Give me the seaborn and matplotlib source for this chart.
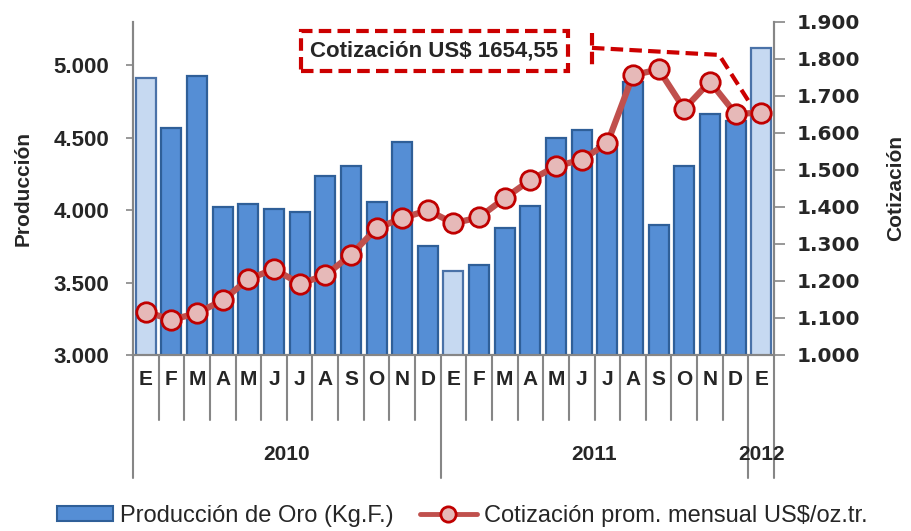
import numpy as np
import pandas as pd
import matplotlib.pyplot as plt
import matplotlib.transforms as mtransforms
from matplotlib.patches import Patch
from matplotlib.lines import Line2D
import seaborn as sns

# data
months = ["E", "F", "M", "A", "M", "J", "J", "A", "S", "O", "N", "D",
          "E", "F", "M", "A", "M", "J", "J", "A", "S", "O", "N", "D",
          "E"]
years = ["2010"] * 12 + ["2011"] * 12 + ["2012"]
produccion = [4910, 4570, 4925, 4020, 4045, 4005, 3990, 4235, 4305, 4060, 4470, 3755,
              3580, 3620, 3880, 4030, 4500, 4555, 4445, 4885, 3895, 4305, 4665, 4615,
              5120]
cotizacion = [1117, 1095, 1113, 1148, 1205, 1232, 1193, 1215, 1271, 1342, 1370, 1391,
              1356, 1372, 1424, 1473, 1510, 1528, 1572, 1756, 1772, 1665, 1739, 1652,
              1654.55]
year_labels = ["2010", "2011", "2012"]
year_centers = [5.5, 17.5, 24]
year_breaks = [0, 12, 24, 25]

sns.set_style("white")
plt.rcParams["font.family"] = ["Liberation Sans", "DejaVu Sans"]

BAR = "#558ED5"
BAR_EDGE = "#2F5F98"
BAR_LIGHT = "#C6D9F1"
BAR_LIGHT_EDGE = "#4A72A8"
LINE = "#C0504D"
MARK_FACE = "#E6B9B8"
MARK_EDGE = "#C00000"
AXIS = "#868686"

df = pd.DataFrame({
    "key": [f"{m}-{y}-{i}" for i, (m, y) in enumerate(zip(months, years))],
    "mes": months,
    "prod": produccion,
    "cot": cotizacion,
})
idx = np.arange(len(df))
is_jan = [m == "E" for m in months]
colors = [BAR_LIGHT if j else BAR for j in is_jan]

fig = plt.figure(figsize=(9.11, 5.31), dpi=100)
ax = fig.add_axes([0.146, 0.3315, 0.7036, 0.6271])

sns.barplot(data=df, x="key", y="prod", hue="key", palette=colors, legend=False,
            width=0.78, ax=ax, saturation=1, linewidth=1.6)
for p, j in zip(ax.patches, is_jan):
    p.set_edgecolor(BAR_LIGHT_EDGE if j else BAR_EDGE)

ax.set_xlim(-0.5, len(df) - 0.5)
ax.set_ylim(3000, 5300)
ax.set_yticks([3000, 3500, 4000, 4500, 5000])
ax.yaxis.set_major_formatter(plt.FuncFormatter(lambda v, _: f"{v:,.0f}".replace(",", ".")))
ax.set_xticks(idx)
ax.set_xticklabels(months, fontsize=15, fontweight="bold")
ax.tick_params(axis="x", length=0, pad=11)
ax.tick_params(axis="y", length=5, width=1.2, color=AXIS, labelsize=16, direction="out",
               left=True, pad=12)
for lab in ax.get_yticklabels():
    lab.set_fontweight("bold")
ax.set_xlabel("")
ax.set_ylabel("Producción", fontsize=15, fontweight="bold", labelpad=15)
for s in ["left", "right", "bottom"]:
    ax.spines[s].set_color(AXIS)
    ax.spines[s].set_linewidth(1.5)
ax.spines["top"].set_visible(False)

ax2 = ax.twinx()
sns.lineplot(x=idx, y=df["cot"], ax=ax2, color=LINE, linewidth=4.5, marker="o",
             markersize=14, markerfacecolor=MARK_FACE, markeredgecolor=MARK_EDGE,
             markeredgewidth=2)
ax2.set_ylim(1000, 1900)
ax2.set_yticks(np.arange(1000, 1901, 100))
ax2.yaxis.set_major_formatter(plt.FuncFormatter(lambda v, _: f"{v:,.0f}".replace(",", ".")))
ax2.tick_params(axis="y", length=8, width=1.2, color=AXIS, direction="out", right=True, pad=8)
for lab in ax2.get_yticklabels():
    lab.set_fontweight("bold")
    lab.set_fontsize(14.5)
    lab.set_family(["DejaVu Sans"])
ax2.set_ylabel("Cotización", fontsize=15, fontweight="bold", rotation=90, labelpad=19)
for s in ["left", "right", "bottom"]:
    ax2.spines[s].set_color(AXIS)
    ax2.spines[s].set_linewidth(1.5)
ax2.spines["top"].set_visible(False)

# multi-level category axis separators
trans = mtransforms.blended_transform_factory(ax.transData, ax.transAxes)
for b in range(len(df) + 1):
    depth = -0.37 if b in year_breaks else -0.195
    ax.plot([b - 0.5, b - 0.5], [0, depth], transform=trans, clip_on=False,
            color=AXIS, lw=1.5)
for lab, c in zip(year_labels, year_centers):
    ax.text(c, -0.30, lab, transform=trans, ha="center", va="center",
            fontsize=15, fontweight="bold")

# callout
ax2.text(11.26, 1822, "Cotización US$ 1654,55", ha="center", va="center",
         fontsize=16, fontweight="bold", zorder=10,
         bbox=dict(boxstyle="square,pad=0.42", fc="white", ec="#CC0000",
                   lw=3, ls=(0, (3, 1.5))))
ax2.plot([17.4, 17.4], [1870, 1770], color="#CC0000", lw=3, ls=(0, (3, 1.5)), clip_on=False)
ax2.plot([17.4, 22.36, 23.53], [1830, 1811, 1684], color="#CC0000", lw=3,
         ls=(0, (3, 1.5)), clip_on=False)

handles = [
    Patch(facecolor=BAR, edgecolor=BAR_EDGE, linewidth=1.5),
    Line2D([], [], color=LINE, lw=3.5, marker="o", markersize=11,
           markerfacecolor=MARK_FACE, markeredgecolor=MARK_EDGE, markeredgewidth=2),
]
fig.legend(handles, ["Producción de Oro (Kg.F.)", "Cotización prom. mensual US$/oz.tr."],
           loc="center", bbox_to_anchor=(0.507, 0.028), ncol=2, frameon=False,
           fontsize=17, handlelength=2.4, handleheight=0.6, columnspacing=1.1,
           handletextpad=0.3, borderpad=0)

fig.savefig("out.png", dpi=100)
